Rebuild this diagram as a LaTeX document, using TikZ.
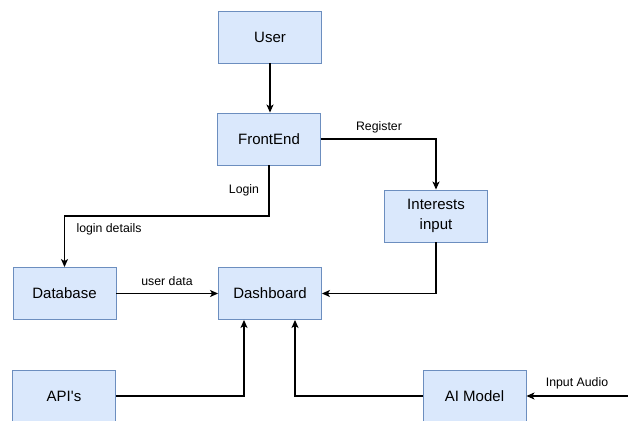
\documentclass[tikz,border=0pt]{standalone}
\usepackage{fontspec}
\setmainfont{Liberation Sans}
\usetikzlibrary{arrows.meta}
\definecolor{boxfill}{HTML}{DAE8FC}
\definecolor{boxdraw}{HTML}{6C8EBF}
\begin{document}
\begin{tikzpicture}[x=1pt,y=-1pt,
  box/.style={draw=boxdraw,fill=boxfill,line width=0.9pt,minimum width=103pt,minimum height=52pt,inner sep=0pt,align=center,font=\fontsize{15}{20}\selectfont},
  conn/.style={line width=1.2pt,-{Stealth[length=8pt,width=7pt,inset=2pt]}},
  lbl/.style={font=\fontsize{12.3}{14}\selectfont,inner sep=0pt}]
\clip (0,0) rectangle (628,420);
\fill[white] (0,0) rectangle (628,420);
\node[box] (user) at (270,37) {User};
\node[box] (front) at (269,139) {FrontEnd};
\node[box] (interests) at (436,216) {Interests\\input};
\node[box] (db) at (64.5,293.5) {Database};
\node[box] (dash) at (270,293.5) {Dashboard};
\node[box] (api) at (64,396) {API\textquotesingle s};
\node[box] (ai) at (474.5,396) {AI Model};
\coordinate (audio) at (630,396);
\coordinate (loginturn) at (269,216);
\draw[conn] (user) -- (front.north -| user);
\draw[conn] (front.east) -| (interests.north);
\draw[conn] (front.south) -- (loginturn) -| (db.north);
\draw[conn] (db.east) -- (dash.west);
\draw[conn] (interests.south) |- (dash.east);
\draw[conn] (api.east) -| ([xshift=-26pt]dash.south);
\draw[conn] (ai.west) -| ([xshift=25pt]dash.south);
\draw[conn] (audio) -- (ai.east);
\node[lbl] (lregister) at (379,127) {Register};
\node[lbl] (llogin) at (244,190) {Login};
\node[lbl] (ldetails) at (109,229) {login details};
\node[lbl] (luser) at (167,281) {user data};
\node[lbl] (laudio) at (577,383) {Input Audio};
\end{tikzpicture}
\end{document}
